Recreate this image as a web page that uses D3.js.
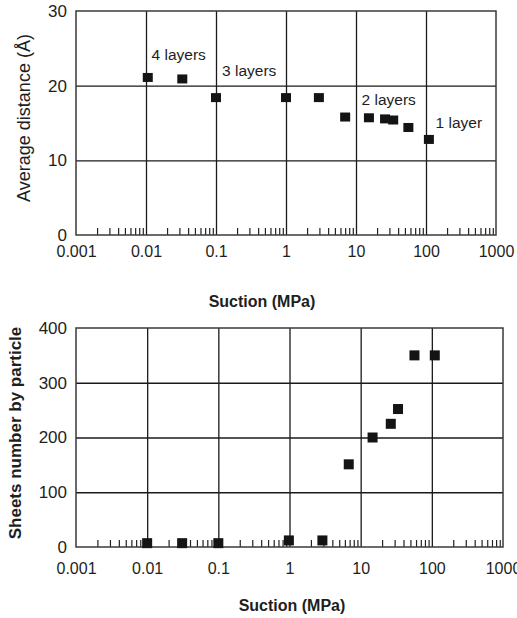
<!DOCTYPE html>
<html>
<head>
<meta charset="utf-8">
<script src="https://cdn.jsdelivr.net/npm/d3@7"></script>
<style>
  body { margin: 0; background: #fff; }
  svg { display: block; font-family: "Liberation Sans", Arial, sans-serif; }
</style>
</head>
<body>
<svg id="chart" width="517" height="618"></svg>
<script>
// ---------- DATA ----------
const decadeTicks = [0.001, 0.01, 0.1, 1, 10, 100, 1000];
const decadeLabels = ["0.001", "0.01", "0.1", "1", "10", "100", "1000"];

// Top chart: average distance vs suction
const suctionTop = [0.0106, 0.033, 0.1, 1, 2.95, 7, 15.3, 26, 34, 56, 110];
const distanceTop = [21.1, 20.9, 18.4, 18.4, 18.4, 15.8, 15.7, 15.55, 15.4, 14.4, 12.8];
const distanceTicks = [0, 10, 20, 30];
const layerLabels = ["4 layers", "3 layers", "2 layers", "1 layer"];
const layerLabelX = [0.012, 0.122, 12.0, 137];
const layerLabelY = [23.5, 21.3, 17.4, 14.3];

// Bottom chart: sheets number by particle vs suction
const suctionBottom = [0.01, 0.031, 0.1, 0.98, 2.9, 6.8, 14.7, 26.5, 33.5, 57, 110];
const sheetsBottom = [7, 7, 7, 12, 12, 151, 200, 225, 252, 350, 350];
const sheetsTicks = [0, 100, 200, 300, 400];

// ---------- DRAW ----------
const svg = d3.select("#chart");
const font = '"Liberation Sans", Arial, sans-serif';
const textColor = "#1e1e1e";

const minorTicks = [];
for (let e = -3; e < 3; e++) {
  for (let m = 2; m <= 9; m++) minorTicks.push(m * Math.pow(10, e));
}

function drawPanel(cfg) {
  const x = d3.scaleLog().domain([0.001, 1000]).range([cfg.left, cfg.right]);
  const y = d3.scaleLinear().domain(cfg.yDomain).range([cfg.bottom, cfg.top]);
  const g = svg.append("g");

  // vertical grid
  g.append("g")
    .attr("transform", `translate(0,${cfg.bottom})`)
    .call(d3.axisBottom(x).tickValues(decadeTicks.slice(1, -1)).tickSize(-(cfg.bottom - cfg.top)).tickFormat(""))
    .call(s => s.select(".domain").remove())
    .call(s => s.selectAll("line").attr("stroke", "#1a1a1a").attr("stroke-width", 1.3));

  // horizontal grid
  g.append("g")
    .attr("transform", `translate(${cfg.left},0)`)
    .call(d3.axisLeft(y).tickValues(cfg.yTicks.slice(1, -1)).tickSize(-(cfg.right - cfg.left)).tickFormat(""))
    .call(s => s.select(".domain").remove())
    .call(s => s.selectAll("line").attr("stroke", "#1a1a1a").attr("stroke-width", 1.3));

  // minor ticks (inside, from bottom axis upward)
  g.append("g")
    .attr("transform", `translate(0,${cfg.bottom})`)
    .call(d3.axisBottom(x).tickValues(minorTicks).tickSize(-7).tickFormat(""))
    .call(s => s.select(".domain").remove())
    .call(s => s.selectAll("line").attr("stroke", "#222").attr("stroke-width", 1.2));

  // frame
  g.append("rect")
    .attr("x", cfg.left).attr("y", cfg.top)
    .attr("width", cfg.right - cfg.left).attr("height", cfg.bottom - cfg.top)
    .attr("fill", "none").attr("stroke", "#3a3a3a").attr("stroke-width", 1.5);

  // x tick labels
  g.append("g")
    .attr("transform", `translate(0,${cfg.bottom})`)
    .call(d3.axisBottom(x).tickValues(decadeTicks).tickSize(0).tickPadding(cfg.xLabelPad)
      .tickFormat((d, i) => decadeLabels[i]))
    .call(s => s.select(".domain").remove())
    .call(s => s.selectAll("text").attr("font-family", font).attr("font-size", 16).attr("fill", textColor));

  // y tick labels
  g.append("g")
    .attr("transform", `translate(${cfg.left},0)`)
    .call(d3.axisLeft(y).tickValues(cfg.yTicks).tickSize(0).tickPadding(9))
    .call(s => s.select(".domain").remove())
    .call(s => s.selectAll("text").attr("font-family", font).attr("font-size", 17).attr("fill", textColor));

  // markers
  g.append("g").selectAll("rect")
    .data(cfg.xs.map((v, i) => [v, cfg.ys[i]]))
    .join("rect")
    .attr("x", d => x(d[0]) - cfg.mw / 2)
    .attr("y", d => y(d[1]) - cfg.mh / 2)
    .attr("width", cfg.mw).attr("height", cfg.mh)
    .attr("fill", "#141414");

  // x axis title
  svg.append("text")
    .attr("x", cfg.xTitleX).attr("y", cfg.xTitleY)
    .attr("text-anchor", "middle").attr("dominant-baseline", "middle")
    .attr("font-family", font).attr("font-size", 16).attr("font-weight", "bold")
    .attr("fill", textColor)
    .text("Suction (MPa)");

  // y axis title
  svg.append("text")
    .attr("transform", `translate(${cfg.yTitleX},${cfg.yTitleY}) rotate(-90)`)
    .attr("text-anchor", "middle").attr("dominant-baseline", "middle")
    .attr("font-family", font).attr("font-size", cfg.yTitleSize).attr("font-weight", cfg.yTitleWeight)
    .attr("fill", textColor)
    .text(cfg.yTitle);

  return { x, y, g };
}

const topPanel = drawPanel({
  left: 76, right: 496, top: 11, bottom: 235,
  yDomain: [0, 30], yTicks: distanceTicks,
  xs: suctionTop, ys: distanceTop, mw: 10, mh: 9,
  xLabelPad: 11,
  xTitleX: 262, xTitleY: 303,
  yTitleX: 25, yTitleY: 118, yTitle: "Average distance (Å)", yTitleSize: 18, yTitleWeight: "normal"
});

topPanel.g.append("g").selectAll("text")
  .data(layerLabels)
  .join("text")
  .attr("x", (d, i) => topPanel.x(layerLabelX[i]))
  .attr("y", (d, i) => topPanel.y(layerLabelY[i]))
  .attr("font-family", font).attr("font-size", 15.5).attr("fill", textColor)
  .text(d => d);

drawPanel({
  left: 76, right: 503, top: 328, bottom: 547,
  yDomain: [0, 400], yTicks: sheetsTicks,
  xs: suctionBottom, ys: sheetsBottom, mw: 10, mh: 10,
  xLabelPad: 16,
  xTitleX: 292, xTitleY: 607,
  yTitleX: 17, yTitleY: 433, yTitle: "Sheets number by particle", yTitleSize: 17, yTitleWeight: "bold"
});
</script>
</body>
</html>
